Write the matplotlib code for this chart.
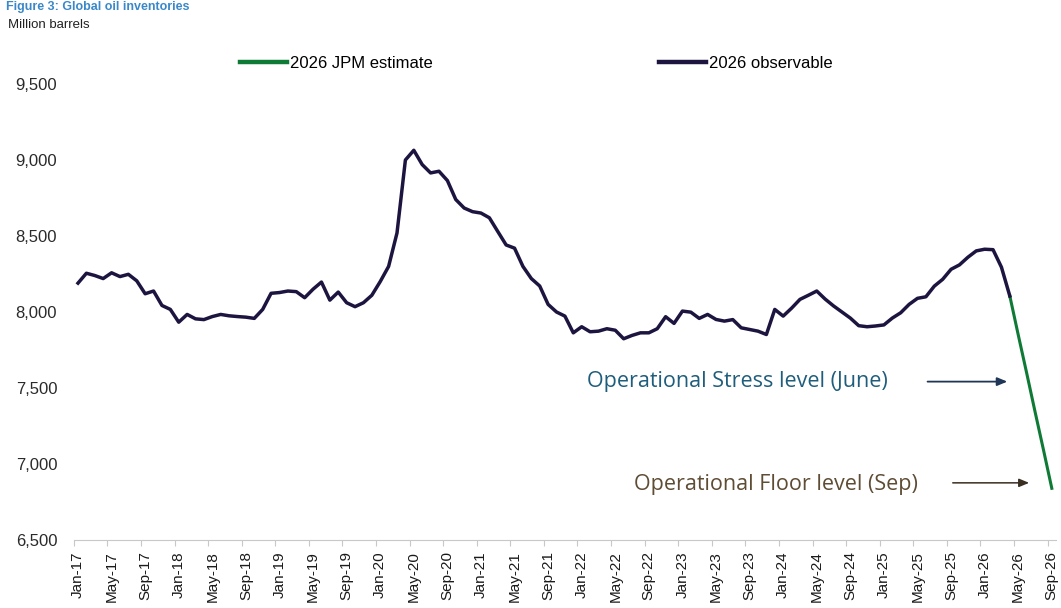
import matplotlib.pyplot as plt
import numpy as np

# Global oil inventories (million barrels), monthly from Jan-17 to Apr-26
observable = [
    8190, 8255, 8240, 8220, 8258, 8233, 8248, 8205, 8120, 8138, 8043, 8017,   # 2017
    7933, 7984, 7955, 7950, 7970, 7984, 7975, 7970, 7966, 7958, 8017, 8123,   # 2018
    8128, 8138, 8134, 8094, 8150, 8197, 8078, 8131, 8061, 8035, 8061, 8110,   # 2019
    8200, 8300, 8520, 9000, 9064, 8970, 8915, 8926, 8865, 8740, 8684, 8660,   # 2020
    8651, 8620, 8530, 8441, 8420, 8300, 8220, 8171, 8050, 8000, 7973, 7863,   # 2021
    7903, 7870, 7874, 7890, 7880, 7824, 7846, 7863, 7863, 7890, 7969, 7925,   # 2022
    8006, 7999, 7958, 7984, 7951, 7940, 7950, 7896, 7885, 7874, 7852, 8017,   # 2023
    7973, 8025, 8083, 8110, 8138, 8085, 8040, 8000, 7960, 7910, 7903, 7908,   # 2024
    7915, 7960, 7995, 8050, 8090, 8100, 8170, 8215, 8281, 8310, 8360, 8402,   # 2025
    8413, 8410, 8295, 8105,                                                   # 2026
]
# JPM estimate, Apr-26 to Sep-26
estimate = [8105, 7850, 7600, 7345, 7095, 6840]

tick_labels = [
    "Jan-17", "May-17", "Sep-17", "Jan-18", "May-18", "Sep-18",
    "Jan-19", "May-19", "Sep-19", "Jan-20", "May-20", "Sep-20",
    "Jan-21", "May-21", "Sep-21", "Jan-22", "May-22", "Sep-22",
    "Jan-23", "May-23", "Sep-23", "Jan-24", "May-24", "Sep-24",
    "Jan-25", "May-25", "Sep-25", "Jan-26", "May-26", "Sep-26",
]
y_ticks = [6500, 7000, 7500, 8000, 8500, 9000, 9500]

OBS_COLOR = "#1d1540"
EST_COLOR = "#0f7a35"

plt.rcParams["font.family"] = ["Liberation Sans", "DejaVu Sans"]

W, H = 1061, 608
fig = plt.figure(figsize=(W / 100, H / 100), dpi=100)
ax = fig.add_axes([73.8 / W, 1 - 540 / H, (1056 - 73.8) / W, (540 - 84) / H])

obs_x = np.arange(len(observable))
est_x = np.arange(len(observable) - 1, len(observable) - 1 + len(estimate))

ax.plot(obs_x, observable, color=OBS_COLOR, lw=2.5, label="2026 observable",
        solid_joinstyle="round", zorder=3)
ax.plot(est_x, estimate, color=EST_COLOR, lw=2.2, label="2026 JPM estimate",
        solid_joinstyle="round", zorder=2)

n_months = len(observable) - 1 + len(estimate)
ax.set_xlim(-0.5, n_months - 0.5)
ax.set_ylim(y_ticks[0], y_ticks[-1])

# x axis: labels every 4 months, small tick marks on the category boundaries
ax.set_xticks(np.arange(0, n_months, 4))
ax.set_xticklabels(tick_labels, rotation=90, ha="center", va="top",
                   fontsize=11, color="#1a1a1a")
ax.set_xticks(np.arange(-0.5, n_months, 4), minor=True)
ax.tick_params(axis="x", which="major", length=0, pad=8)
ax.tick_params(axis="x", which="minor", length=4, color="#c8c8c8", width=0.8)

ax.set_yticks(y_ticks)
ax.set_yticklabels([f"{v:,}" for v in y_ticks], fontsize=12, color="#2a2a2a")
ax.tick_params(axis="y", length=0, pad=12)

for side in ["top", "right", "left"]:
    ax.spines[side].set_visible(False)
ax.spines["bottom"].set_color("#c8c8c8")
ax.spines["bottom"].set_linewidth(0.8)

# legend, estimate first
handles, labels = ax.get_legend_handles_labels()
leg = fig.legend(handles[::-1], labels[::-1], ncol=2, frameon=False,
                 loc="center left", bbox_to_anchor=(240 / W, 1 - 63 / H),
                 fontsize=12, handlelength=2.8, handletextpad=0.2,
                 columnspacing=13.6, borderpad=0, borderaxespad=0)
for line in leg.get_lines():
    line.set_linewidth(3.2)

# heading
fig.text(6 / W, 1 - 1 / H, "Figure 3: Global oil inventories", fontsize=9,
         fontweight="bold", color="#3a88c9", va="top", ha="left")
fig.text(8 / W, 1 - 25 / H, "Million barrels", fontsize=9.5, color="#222222",
         va="center", ha="left")

# operational levels
ax.text(96.4, 7542, "Operational Stress level (June)", family="Open Sans",
        fontsize=15.5, color="#1f5d7c", ha="right", va="center")
ax.annotate("", xy=(110.7, 7542), xytext=(101.2, 7542),
            arrowprops=dict(arrowstyle="-|>,head_length=0.6,head_width=0.25",
                            color="#1f3657", lw=1.3, shrinkA=0, shrinkB=0))
ax.text(100.0, 6868, "Operational Floor level (Sep)", family="Open Sans",
        fontsize=15.5, color="#5e4c34", ha="right", va="center")
ax.annotate("", xy=(113.3, 6876), xytext=(104.2, 6876),
            arrowprops=dict(arrowstyle="-|>,head_length=0.6,head_width=0.25",
                            color="#3a2e20", lw=1.1, shrinkA=0, shrinkB=0))

fig.savefig("out.png", dpi=100, facecolor="white")
